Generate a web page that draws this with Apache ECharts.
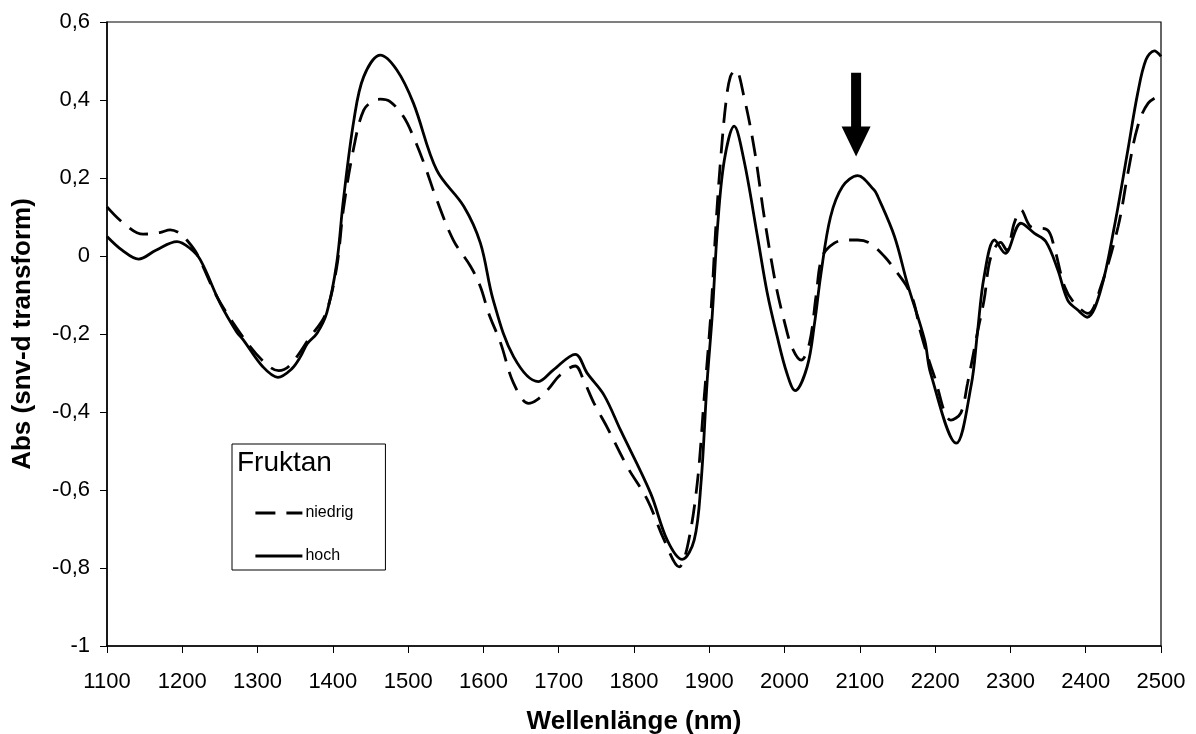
<!DOCTYPE html>
<html>
<head>
<meta charset="utf-8">
<script src="https://cdn.jsdelivr.net/npm/echarts@6/dist/echarts.min.js"></script>
<style>
html,body{margin:0;padding:0;background:#fff;}
#chart{width:1196px;height:734px;}
</style>
</head>
<body>
<div id="chart"></div>
<script>
// Wavelength axis ticks
const xMin = 1100, xMax = 2500, xStep = 100;
const yMin = -1, yMax = 0.6, yStep = 0.2;

// Series "niedrig" (dashed)
const wlNiedrig = [1100,1122,1148,1170,1184,1197,1206,1219,1246,1277,1308,1328,1343,1370,1390,1405,1414,1428,1441,1456,1463,1476,1494,1507,1521,1538,1560,1583,1596,1607,1623,1640,1660,1671,1685,1702,1722,1733,1747,1764,1791,1818,1840,1860,1871,1884,1893,1902,1909,1915,1922,1928,1935,1946,1960,1973,1988,2000,2010,2022,2033,2042,2050,2066,2084,2097,2113,2133,2150,2163,2172,2181,2199,2221,2234,2243,2256,2265,2274,2287,2295,2305,2314,2327,2349,2358,2372,2385,2403,2420,2443,2456,2469,2483,2500];
const absNiedrig = [0.126,0.084,0.056,0.06,0.067,0.058,0.041,0.007,-0.104,-0.198,-0.271,-0.294,-0.28,-0.207,-0.15,-0.03,0.12,0.28,0.374,0.4,0.402,0.396,0.357,0.306,0.238,0.144,0.041,-0.027,-0.079,-0.147,-0.224,-0.326,-0.378,-0.369,-0.344,-0.305,-0.282,-0.318,-0.378,-0.438,-0.54,-0.626,-0.728,-0.797,-0.745,-0.583,-0.369,-0.15,0.084,0.246,0.392,0.46,0.477,0.409,0.272,0.1,-0.07,-0.17,-0.235,-0.267,-0.224,-0.1,-0.002,0.033,0.041,0.041,0.033,-0.002,-0.044,-0.08,-0.121,-0.198,-0.309,-0.421,-0.403,-0.327,-0.198,-0.113,-0.002,0.035,0.015,0.084,0.118,0.075,0.067,0.024,-0.079,-0.121,-0.147,-0.079,0.075,0.212,0.332,0.392,0.413];

// Series "hoch" (solid)
const wlHoch = [1100,1120,1142,1165,1193,1210,1224,1250,1272,1281,1307,1327,1345,1357,1366,1379,1392,1405,1414,1428,1441,1463,1485,1507,1538,1574,1596,1613,1640,1673,1693,1722,1738,1760,1782,1822,1844,1864,1880,1889,1897,1904,1911,1920,1933,1946,1964,1977,1990,2003,2014,2030,2040,2048,2061,2077,2097,2119,2124,2146,2163,2186,2194,2228,2248,2256,2265,2279,2293,2314,2332,2347,2363,2376,2389,2402,2420,2438,2456,2469,2480,2491,2500];
const absHoch = [0.05,0.015,-0.008,0.015,0.037,0.02,-0.01,-0.12,-0.194,-0.215,-0.284,-0.311,-0.29,-0.258,-0.225,-0.198,-0.145,-0.02,0.144,0.349,0.46,0.515,0.477,0.392,0.22,0.127,0.033,-0.113,-0.258,-0.322,-0.292,-0.252,-0.301,-0.356,-0.446,-0.608,-0.728,-0.778,-0.728,-0.582,-0.326,-0.15,0.075,0.246,0.333,0.246,0.05,-0.095,-0.205,-0.3,-0.345,-0.284,-0.17,-0.05,0.1,0.178,0.206,0.169,0.152,0.05,-0.07,-0.215,-0.301,-0.48,-0.33,-0.2,-0.053,0.041,0.007,0.084,0.058,0.037,-0.036,-0.113,-0.138,-0.157,-0.087,0.075,0.272,0.417,0.503,0.526,0.512];

// Arrow annotation: [wavelength, top value, tip value]
const arrowData = [[2095, 0.47, 0.255]];

const seriesNames = ['niedrig', 'hoch'];
const legendTitle = 'Fruktan';
const xName = 'Wellenlänge (nm)';
const yName = 'Abs (snv-d transform)';

function zip(a, b) { return a.map((v, i) => [v, b[i]]); }

const FONT = '"Liberation Sans", Arial, sans-serif';
const chart = echarts.init(document.getElementById('chart'), null, {renderer: 'canvas'});

const option = {
  backgroundColor: '#fff',
  animation: false,
  grid: {
    left: 107, right: 35, top: 22, bottom: 88,
    containLabel: false, outerBoundsMode: 'none',
    show: true, borderColor: '#000', borderWidth: 1.2, backgroundColor: 'transparent'
  },
  graphic: [{
    type: 'text', left: 237, top: 449, silent: true, z: 100,
    style: {text: legendTitle, font: '28px ' + FONT, fill: '#000'}
  }],
  legend: {
    data: seriesNames,
    orient: 'vertical',
    left: 232, top: 444,
    padding: [61, 32, 6, 22],
    itemGap: 27,
    itemWidth: 47,
    itemHeight: 16,
    borderColor: '#000', borderWidth: 1,
    backgroundColor: 'transparent',
    itemStyle: {opacity: 0},
    lineStyle: {width: 2.8},
    textStyle: {fontFamily: FONT, fontSize: 16, color: '#000', padding: [0, 0, 0, -2]}
  },
  xAxis: {
    type: 'value', min: xMin, max: xMax, interval: xStep,
    name: xName, nameLocation: 'middle', nameGap: 63,
    nameTextStyle: {fontFamily: FONT, fontSize: 26, fontWeight: 'bold', color: '#000'},
    axisLine: {show: true, onZero: false, lineStyle: {color: '#000', width: 1.5}},
    axisTick: {show: true, inside: false, length: 7, lineStyle: {color: '#000', width: 1}},
    axisLabel: {fontFamily: FONT, fontSize: 22, color: '#000', margin: 25, formatter: v => String(v)},
    splitLine: {show: false}
  },
  yAxis: {
    type: 'value', min: yMin, max: yMax, interval: yStep,
    name: yName, nameLocation: 'middle', nameGap: 71,
    nameTextStyle: {fontFamily: FONT, fontSize: 26, fontWeight: 'bold', color: '#000'},
    axisLine: {show: true, onZero: false, lineStyle: {color: '#000', width: 1.5}},
    axisTick: {show: true, inside: false, length: 7, lineStyle: {color: '#000', width: 1}},
    axisLabel: {
      fontFamily: FONT, fontSize: 22, color: '#000', margin: 17,
      formatter: v => String(Math.round(v * 10) / 10).replace('.', ',')
    },
    splitLine: {show: false}
  },
  series: [
    {
      name: seriesNames[0], type: 'line', data: zip(wlNiedrig, absNiedrig),
      smooth: 0.35, showSymbol: false, symbol: 'none',
      lineStyle: {color: '#000', width: 2.8, type: [20, 11]},
      itemStyle: {color: '#000'}, z: 3
    },
    {
      name: seriesNames[1], type: 'line', data: zip(wlHoch, absHoch),
      smooth: 0.35, showSymbol: false, symbol: 'none',
      lineStyle: {color: '#000', width: 2.8, type: 'solid'},
      itemStyle: {color: '#000'}, z: 4
    },
    {
      name: 'arrow', type: 'custom', data: arrowData, silent: true, z: 5,
      encode: {x: 0, y: [1, 2]},
      renderItem: function (params, api) {
        const top = api.coord([api.value(0), api.value(1)]);
        const tip = api.coord([api.value(0), api.value(2)]);
        const x = tip[0], hs = 5, hh = 14.5, hl = 30;
        return {
          type: 'polygon',
          shape: {points: [
            [x - hs, top[1]], [x + hs, top[1]], [x + hs, tip[1] - hl],
            [x + hh, tip[1] - hl], [x, tip[1]], [x - hh, tip[1] - hl], [x - hs, tip[1] - hl]
          ]},
          style: {fill: '#000'}
        };
      }
    }
  ]
};
chart.setOption(option);
</script>
</body>
</html>
